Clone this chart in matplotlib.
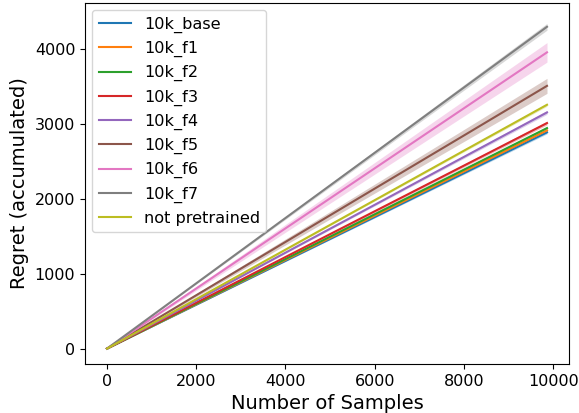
import numpy as np
import matplotlib
matplotlib.use('Agg')
import matplotlib.pyplot as plt

# Checkpoints along the x axis (number of samples)
samples = [0, 2000, 4000, 6000, 8000, 9860]

labels = ['10k_base', '10k_f1', '10k_f2', '10k_f3', '10k_f4',
          '10k_f5', '10k_f6', '10k_f7', 'not pretrained']

# Mean accumulated regret at each checkpoint
base = [0, 585, 1170, 1755, 2340, 2884]
f1 = [0, 592, 1183, 1773, 2363, 2910]
f2 = [0, 598, 1195, 1792, 2387, 2941]
f3 = [0, 611, 1222, 1832, 2441, 3008]
f4 = [0, 640, 1280, 1918, 2557, 3150]
f5 = [0, 712, 1423, 2134, 2843, 3504]
f6 = [0, 802, 1604, 2405, 3206, 3951]
f7 = [0, 871, 1742, 2612, 3483, 4292]
not_pre = [0, 660, 1320, 1980, 2640, 3252]

# Spread of the shaded band at each checkpoint
base_sd = [0, 4, 8, 12, 16, 20]
f1_sd = [0, 4, 8, 12, 16, 20]
f2_sd = [0, 4, 8, 12, 16, 20]
f3_sd = [0, 5, 10, 15, 20, 25]
f4_sd = [0, 5, 10, 15, 20, 25]
f5_sd = [0, 20, 40, 60, 80, 100]
f6_sd = [0, 26, 52, 78, 104, 130]
f7_sd = [0, 9, 18, 27, 36, 45]
not_pre_sd = [0, 4, 8, 12, 16, 20]

means = [base, f1, f2, f3, f4, f5, f6, f7, not_pre]
sds = [base_sd, f1_sd, f2_sd, f3_sd, f4_sd, f5_sd, f6_sd, f7_sd, not_pre_sd]
colors = ['C0', 'C1', 'C2', 'C3', 'C4', 'C5', 'C6', 'C7', 'C8']

fig = plt.figure(figsize=(5.79, 4.13), dpi=100)
ax = fig.add_subplot(111)
fig.subplots_adjust(left=85/579, right=569/579, top=1-3/413, bottom=1-364/413)

x = np.array(samples)
for lab, m, s, c in zip(labels, means, sds, colors):
    m = np.array(m)
    s = np.array(s)
    ax.plot(x, m, color=c, label=lab, linewidth=1.5)
    ax.fill_between(x, m - s, m + s, color=c, alpha=0.3, linewidth=0)

ax.set_xlim(-493, 10353)
ax.set_ylim(-205, 4609)
ax.set_xticks([0, 2000, 4000, 6000, 8000, 10000])
ax.set_yticks([0, 1000, 2000, 3000, 4000])
ax.tick_params(labelsize=11.5)
ax.set_xlabel('Number of Samples', fontsize=14)
ax.set_ylabel('Regret (accumulated)', fontsize=14)
ax.legend(loc='upper left', fontsize=11.6, borderaxespad=0.45)

plt.savefig('out.png', dpi=100)
